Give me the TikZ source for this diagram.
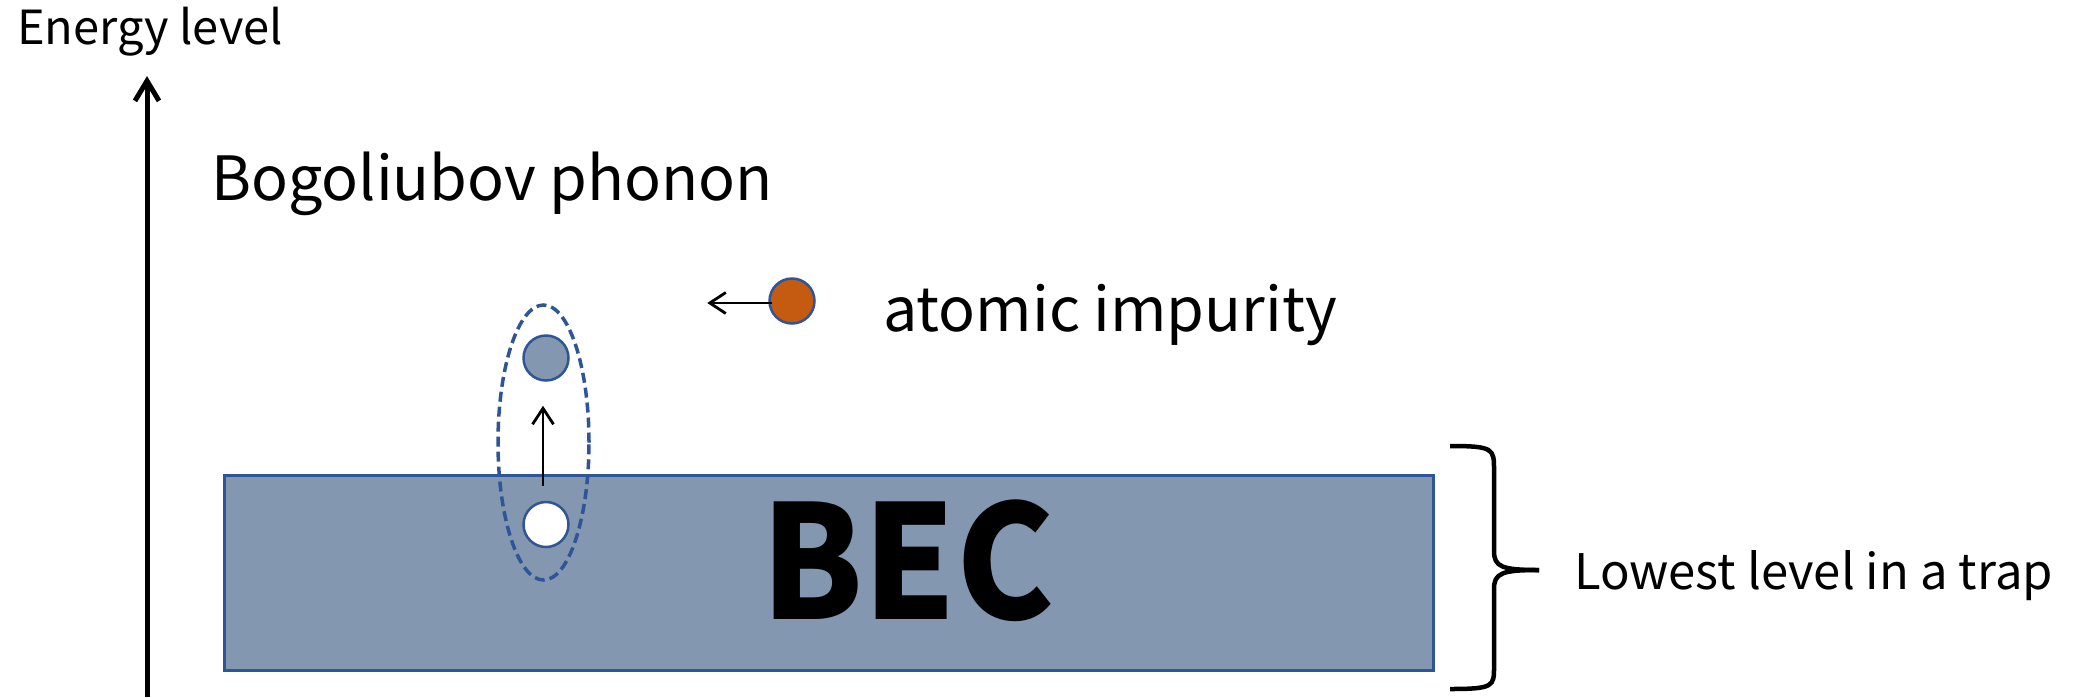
\documentclass[tikz,border=0pt]{standalone}
\usepackage{fontspec}
\usetikzlibrary{arrows.meta,shapes.geometric}
\newfontfamily\jpfont{Noto Sans CJK JP}
\definecolor{becfill}{RGB}{132,151,176}
\definecolor{becline}{RGB}{47,85,151}
\definecolor{impfill}{RGB}{197,90,17}
\tikzset{
  lbl/.style={inner sep=0pt, anchor=base west, font=\jpfont},
  particle/.style={circle, draw=becline, line width=2.5pt, minimum size=45pt, inner sep=0pt},
  thinarrow/.style={line width=2.8pt, -{Straight Barb[length=16pt, width=21pt, line width=2.8pt]}},
}
\begin{document}
\begin{tikzpicture}[x=1pt,y=-1pt]
\useasboundingbox[fill=white] (0,0) rectangle (2077,697);
% axis
\coordinate (axbot) at (147,697);
\coordinate (axtop) at (147,76);
\draw[line width=5pt, -{Straight Barb[length=20pt, width=24pt, line width=5pt]}] (axbot) -- (axtop);
\node[lbl, font=\jpfont\fontsize{47}{56}\selectfont] (energy) at (17,44) {Energy level};
% BEC
\node[draw=becline, fill=becfill, line width=2.5pt, minimum width=1209pt, minimum height=195pt, anchor=north west, inner sep=0pt] (bec) at (223,474) {};
\node[inner sep=0pt, font=\jpfont\bfseries\fontsize{158}{160}\selectfont] (bectext) at (908,561) {\scalebox{0.93}[1]{BEC}};
% labels
\node[lbl, font=\jpfont\fontsize{61}{70}\selectfont] (bogo) at (211,200) {Bogoliubov phonon};
\node[lbl, font=\jpfont\fontsize{61}{70}\selectfont] (atomic) at (883,331) {atomic impurity};
\node[lbl, font=\jpfont\fontsize{49}{56}\selectfont] (lowest) at (1574,589) {Lowest level in a trap};
% pair
\node[ellipse, draw=becline, dashed, dash pattern=on 10pt off 5pt, line width=3.5pt, minimum width=91pt, minimum height=275pt, inner sep=0pt] (pair) at (543.5,442.5) {};
\node[particle, fill=becfill] (exc) at (546,358) {};
\node[particle, fill=white] (hole) at (546,524.5) {};
\draw[thinarrow] ([xshift=-3pt,yshift=15pt]hole.north) -- ([xshift=-3pt,yshift=-24pt]exc.south);
% impurity
\node[particle, fill=impfill] (imp) at (792,301) {};
\draw[thinarrow] ([xshift=4pt,yshift=-2pt]imp.west) -- ([xshift=-61pt,yshift=-2pt]imp.west);
% brace
\coordinate (brtop) at (1450,446);
\coordinate (brtip) at (1539,570);
\coordinate (brbot) at (1450,689);
\draw[line width=4.5pt] (brtop) .. controls (1494,446) and (1494,449) .. (1494,470) -- (1494,551) .. controls (1494,567) and (1502,570) .. (brtip);
\draw[line width=4.5pt] (brtip) .. controls (1502,570) and (1494,573) .. (1494,589) -- (1494,667) .. controls (1494,686) and (1494,689) .. (brbot);
\end{tikzpicture}
\end{document}
